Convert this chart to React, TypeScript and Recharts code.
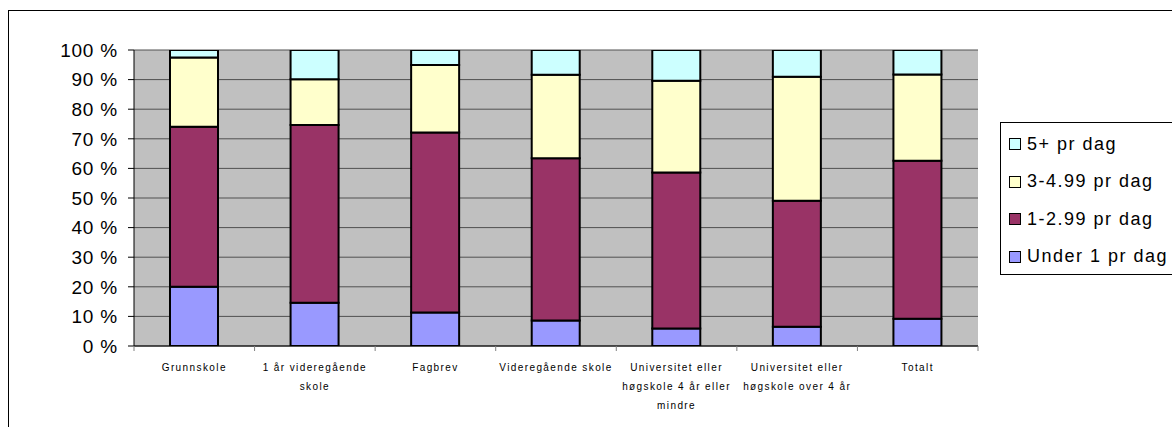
import React from "react";
import { BarChart, Bar, XAxis, YAxis, CartesianGrid } from "recharts";

const categories = [
  "Grunnskole",
  "1 år videregående skole",
  "Fagbrev",
  "Videregående skole",
  "Universitet eller høgskole 4 år eller mindre",
  "Universitet eller høgskole over 4 år",
  "Totalt",
];

// how the category labels wrap under the axis
const categoryLines = [
  ["Grunnskole"],
  ["1 år videregående", "skole"],
  ["Fagbrev"],
  ["Videregående skole"],
  ["Universitet eller", "høgskole 4 år eller", "mindre"],
  ["Universitet eller", "høgskole over 4 år"],
  ["Totalt"],
];

const under1 = [20.0, 14.6, 11.3, 8.6, 5.9, 6.5, 9.2];
const from1to3 = [54.1, 60.1, 60.8, 54.8, 52.7, 42.6, 53.4];
const from3to5 = [23.4, 15.4, 22.8, 28.2, 31.0, 41.9, 29.1];
const over5 = [2.5, 9.9, 5.1, 8.4, 10.4, 9.0, 8.3];

const yTicks = [0, 10, 20, 30, 40, 50, 60, 70, 80, 90, 100];

const series = [
  { key: "under1", name: "Under 1 pr dag", color: "#9999FF", values: under1 },
  { key: "from1to3", name: "1-2.99 pr dag", color: "#993366", values: from1to3 },
  { key: "from3to5", name: "3-4.99 pr dag", color: "#FFFFCC", values: from3to5 },
  { key: "over5", name: "5+ pr dag", color: "#CCFFFF", values: over5 },
];

const data = categories.map((c, i) => {
  const row: any = { name: c, idx: i };
  series.forEach((s) => (row[s.key] = s.values[i]));
  return row;
});

const W = 1172;
const H = 427;
const PLOT_LEFT = 134;
const PLOT_RIGHT = 978;
const PLOT_TOP = 50;
const PLOT_BOTTOM = 346;
const BAND = (PLOT_RIGHT - PLOT_LEFT) / categories.length;

const font = "'Liberation Sans', Arial, sans-serif";

const CategoryTick = (props: any) => {
  const { x, payload, index } = props;
  const lines = categoryLines[index] || [payload.value];
  const left = x - BAND / 2;
  return (
    <g>
      <line x1={left} y1={PLOT_BOTTOM} x2={left} y2={PLOT_BOTTOM + 5} stroke="#808080" />
      {index === categories.length - 1 && (
        <line x1={left + BAND} y1={PLOT_BOTTOM} x2={left + BAND} y2={PLOT_BOTTOM + 5} stroke="#808080" />
      )}
      {lines.map((l: string, i: number) => (
        <text
          key={i}
          x={x}
          y={PLOT_BOTTOM + 25 + i * 19}
          textAnchor="middle"
          fontSize={10}
          letterSpacing={1.4}
          fontFamily={font}
          fill="#000"
        >
          {l}
        </text>
      ))}
    </g>
  );
};

export default function App() {
  const legendItems = [...series].reverse();
  return (
    <div
      style={{
        position: "absolute",
        left: 0,
        top: 0,
        width: W,
        height: H,
        overflow: "hidden",
        background: "#fff",
        fontFamily: font,
      }}
    >
      <div
        style={{
          position: "absolute",
          left: 8,
          top: 10,
          width: W,
          height: H,
          borderLeft: "1px solid #000",
          borderTop: "1px solid #000",
        }}
      />
      <div style={{ position: "absolute", left: 0, top: 0 }}>
        <BarChart
          width={W}
          height={H}
          data={data}
          margin={{ top: PLOT_TOP, right: W - PLOT_RIGHT, bottom: 0, left: 0 }}
          barSize={48}
        >
          <CartesianGrid
            yAxisId="left"
            vertical={false}
            fill="#C0C0C0"
            stroke="#505050"
            strokeWidth={1}
          />
          <XAxis
            dataKey="name"
            axisLine={{ stroke: "#000" }}
            tickLine={false}
            tick={<CategoryTick />}
            interval={0}
            height={H - PLOT_BOTTOM}
          />
          <YAxis
            yAxisId="left"
            width={PLOT_LEFT}
            domain={[0, 100]}
            ticks={yTicks}
            interval={0}
            allowDataOverflow
            tickFormatter={(v: number) => `${v} %`}
            axisLine={{ stroke: "#000" }}
            tickLine={{ stroke: "#000" }}
            tickSize={6}
            tick={{ fontSize: 19, fill: "#000", fontFamily: font, letterSpacing: 0.8 }}
            tickMargin={10}
          />
          <YAxis
            yAxisId="right"
            orientation="right"
            width={0}
            domain={[0, 100]}
            tick={false}
            tickLine={false}
            axisLine={{ stroke: "#808080" }}
          />
          {series.map((s) => (
            <Bar
              key={s.key}
              yAxisId="left"
              dataKey={s.key}
              name={s.name}
              stackId="a"
              fill={s.color}
              stroke="#000"
              strokeWidth={2}
              isAnimationActive={false}
            />
          ))}
        </BarChart>
      </div>
      <div
        style={{
          position: "absolute",
          left: 1000,
          top: 122,
          width: 300,
          height: 151,
          border: "1px solid #000",
          background: "#fff",
        }}
      >
        {legendItems.map((s, i) => (
          <div
            key={s.key}
            style={{
              position: "absolute",
              left: 8,
              top: 10 + i * 37.5,
              height: 22,
              display: "flex",
              alignItems: "center",
              whiteSpace: "nowrap",
            }}
          >
            <span
              style={{
                display: "inline-block",
                width: 10,
                height: 10,
                background: s.color,
                border: "1.5px solid #000",
                marginRight: 6,
              }}
            />
            <span style={{ fontSize: 18, letterSpacing: 1.5, color: "#000" }}>{s.name}</span>
          </div>
        ))}
      </div>
    </div>
  );
}
